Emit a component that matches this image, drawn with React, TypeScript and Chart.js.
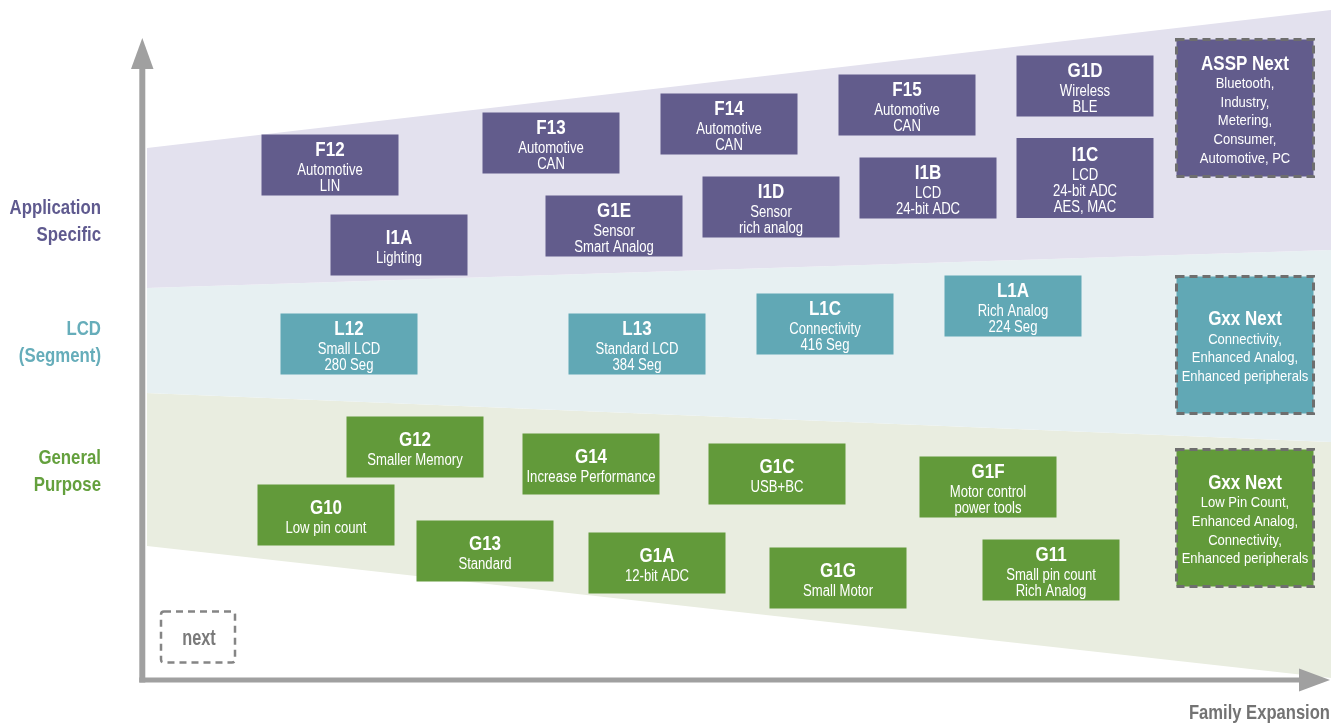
import React, { useEffect, useRef } from "react";
import { Chart, registerables } from "chart.js";

Chart.register(...registerables);

const FONT = '"Liberation Sans", Arial, sans-serif';

// Band boundary lines (x from left to right end, y values)
const bandX = [147, 1331];
const purpleTopY = [148, 10];
const purpleBottomY = [288, 250];
const lcdBottomY = [393, 442];
const greenBottomY = [546, 678];

// Application specific boxes
const purpleNames = ["F12", "I1A", "F13", "G1E", "F14", "I1D", "F15", "I1B", "G1D", "I1C"];
const purpleSubs = [
  ["Automotive", "LIN"],
  ["Lighting"],
  ["Automotive", "CAN"],
  ["Sensor", "Smart Analog"],
  ["Automotive", "CAN"],
  ["Sensor", "rich analog"],
  ["Automotive", "CAN"],
  ["LCD", "24-bit ADC"],
  ["Wireless", "BLE"],
  ["LCD", "24-bit ADC", "AES, MAC"],
];
const purpleX = [330, 399, 551, 614, 729, 771, 907, 928, 1085, 1085];
const purpleY = [165, 245, 143, 226, 124, 207, 105, 188, 86, 178];

// LCD boxes
const tealNames = ["L12", "L13", "L1C", "L1A"];
const tealSubs = [
  ["Small LCD", "280 Seg"],
  ["Standard LCD", "384 Seg"],
  ["Connectivity", "416 Seg"],
  ["Rich Analog", "224 Seg"],
];
const tealX = [349, 637, 825, 1013];
const tealY = [344, 344, 324, 306];

// General purpose boxes
const greenNames = ["G12", "G14", "G1C", "G1F", "G10", "G13", "G1A", "G1G", "G11"];
const greenSubs = [
  ["Smaller Memory"],
  ["Increase Performance"],
  ["USB+BC"],
  ["Motor control", "power tools"],
  ["Low pin count"],
  ["Standard"],
  ["12-bit ADC"],
  ["Small Motor"],
  ["Small pin count", "Rich Analog"],
];
const greenX = [415, 591, 777, 988, 326, 485, 657, 838, 1051];
const greenY = [447, 464, 474, 487, 515, 551, 563, 578, 570];

// "Next" boxes (dashed)
const nextNames = ["ASSP Next", "Gxx Next", "Gxx Next"];
const nextSubs = [
  ["Bluetooth,", "Industry,", "Metering,", "Consumer,", "Automotive, PC"],
  ["Connectivity,", "Enhanced Analog,", "Enhanced peripherals"],
  ["Low Pin Count,", "Enhanced Analog,", "Connectivity,", "Enhanced peripherals"],
];
const nextX = [1245, 1245, 1245];
const nextY = [108, 345, 518];

// Category labels on the left
const categoryLines = [["Application", "Specific"], ["LCD", "(Segment)"], ["General", "Purpose"]];
const categoryY = [220, 341, 470];

const legendNextX = [198];
const legendNextY = [637];

const COLORS = {
  purpleBand: "#e3e1ee",
  lcdBand: "#e7f0f2",
  greenBand: "#e9ede0",
  purpleBox: "#625c8c",
  tealBox: "#61a8b5",
  greenBox: "#629a3a",
  purpleLabel: "#5f5a8f",
  tealLabel: "#66adba",
  greenLabel: "#64a03d",
  axis: "#a0a0a0",
  dash: "#6e6e6e",
};

const pts = (ys: number[]) => bandX.map((x, i) => ({ x, y: ys[i] }));
const ptsXY = (xs: number[], ys: number[]) => xs.map((x, i) => ({ x, y: ys[i] }));

const bandDataset = (ys: number[], color: string | null) => ({
  type: "line" as const,
  data: pts(ys),
  borderWidth: 0,
  borderColor: "rgba(0,0,0,0)",
  pointRadius: 0,
  fill: color ? "+1" : false,
  backgroundColor: color || "rgba(0,0,0,0)",
  tension: 0,
});

const boxDataset = (xs: number[], ys: number[], kind: string, names: string[], subs: string[][]) => ({
  type: "scatter" as const,
  data: ptsXY(xs, ys),
  pointRadius: 0,
  showLine: false,
  kind,
  names,
  subs,
});

function narrowText(ctx: CanvasRenderingContext2D, text: string, x: number, y: number, sx: number) {
  ctx.save();
  ctx.translate(x, y);
  ctx.scale(sx, 1);
  ctx.fillText(text, 0, 0);
  ctx.restore();
}

export default function App() {
  const ref = useRef<HTMLCanvasElement>(null);

  useEffect(() => {
    if (!ref.current) return;

    const drawPlugin = {
      id: "diagram",
      afterDatasetsDraw(chart: any) {
        const ctx: CanvasRenderingContext2D = chart.ctx;
        const xs = chart.scales.x;
        const ys = chart.scales.y;
        const px = (v: number) => xs.getPixelForValue(v);
        const py = (v: number) => ys.getPixelForValue(v);

        // Axes
        ctx.save();
        ctx.fillStyle = COLORS.axis;
        ctx.strokeStyle = COLORS.axis;
        ctx.lineCap = "butt";
        ctx.lineWidth = 6;
        ctx.beginPath();
        ctx.moveTo(px(142.3), py(682.5));
        ctx.lineTo(px(142.3), py(64));
        ctx.stroke();
        ctx.lineWidth = 5;
        ctx.beginPath();
        ctx.moveTo(px(139.3), py(680));
        ctx.lineTo(px(1304), py(680));
        ctx.stroke();
        ctx.beginPath();
        ctx.moveTo(px(142.3), py(38));
        ctx.lineTo(px(131), py(69));
        ctx.lineTo(px(153.5), py(69));
        ctx.closePath();
        ctx.fill();
        ctx.beginPath();
        ctx.moveTo(px(1330), py(680));
        ctx.lineTo(px(1299), py(668.5));
        ctx.lineTo(px(1299), py(691.5));
        ctx.closePath();
        ctx.fill();
        ctx.restore();

        // Boxes
        chart.data.datasets.forEach((ds: any, di: number) => {
          if (!ds.kind) return;
          const meta = chart.getDatasetMeta(di);
          meta.data.forEach((el: any, i: number) => {
            const cx = el.x;
            const cy = el.y;
            const subs: string[] = ds.subs[i];
            const isNext = ds.kind === "next";
            const w = 137;
            let h = subs.length >= 3 ? 80 : 61;
            let fill = COLORS.purpleBox;
            if (ds.kind === "teal") fill = COLORS.tealBox;
            if (ds.kind === "green") fill = COLORS.greenBox;
            if (isNext) {
              h = 137;
              fill = [COLORS.purpleBox, COLORS.tealBox, COLORS.greenBox][i];
            }
            ctx.save();
            ctx.fillStyle = fill;
            ctx.fillRect(cx - w / 2, cy - h / 2, w, h);
            if (isNext) {
              ctx.strokeStyle = COLORS.dash;
              ctx.lineWidth = 3;
              ctx.setLineDash([8, 5]);
              ctx.strokeRect(cx - w / 2, cy - h / 2, w, h);
              ctx.setLineDash([]);
            }
            const titleSize = 20;
            const subSize = isNext ? 15.5 : 16;
            const titleCap = titleSize * 0.716;
            const firstGap = isNext ? 18.3 : 19;
            const lineGap = isNext ? 18.7 : 16;
            const blockH = titleCap + firstGap + (subs.length - 1) * lineGap;
            const top = cy + 1 - blockH / 2;
            const b0 = top + titleCap;
            ctx.fillStyle = "#ffffff";
            ctx.textAlign = "center";
            ctx.textBaseline = "alphabetic";
            ctx.font = `bold ${titleSize}px ${FONT}`;
            narrowText(ctx, ds.names[i], cx, b0, 0.85);
            ctx.font = `${subSize}px ${FONT}`;
            subs.forEach((s, k) => {
              narrowText(ctx, s, cx, b0 + firstGap + k * lineGap, isNext ? 0.84 : 0.82);
            });
            ctx.restore();
          });
        });

        // Legend "next"
        ctx.save();
        const nx = px(legendNextX[0]);
        const ny = py(legendNextY[0]);
        ctx.strokeStyle = "#858585";
        ctx.lineWidth = 2.5;
        ctx.setLineDash([7, 5]);
        ctx.beginPath();
        const bw = 74, bh = 51, r = 3;
        const lx = nx - bw / 2, ly = ny - bh / 2;
        ctx.moveTo(lx + r, ly);
        ctx.lineTo(lx + bw - r, ly);
        ctx.quadraticCurveTo(lx + bw, ly, lx + bw, ly + r);
        ctx.lineTo(lx + bw, ly + bh - r);
        ctx.quadraticCurveTo(lx + bw, ly + bh, lx + bw - r, ly + bh);
        ctx.lineTo(lx + r, ly + bh);
        ctx.quadraticCurveTo(lx, ly + bh, lx, ly + bh - r);
        ctx.lineTo(lx, ly + r);
        ctx.quadraticCurveTo(lx, ly, lx + r, ly);
        ctx.stroke();
        ctx.setLineDash([]);
        ctx.fillStyle = "#7a7a7a";
        ctx.font = `bold 22px ${FONT}`;
        ctx.textAlign = "center";
        ctx.textBaseline = "alphabetic";
        narrowText(ctx, "next", nx + 1, ny + 8, 0.74);
        ctx.restore();

        // Category labels
        ctx.save();
        const catColors = [COLORS.purpleLabel, COLORS.tealLabel, COLORS.greenLabel];
        ctx.textAlign = "right";
        ctx.textBaseline = "alphabetic";
        ctx.font = `bold 21px ${FONT}`;
        categoryLines.forEach((lines, i) => {
          ctx.fillStyle = catColors[i];
          lines.forEach((t, k) => {
            narrowText(ctx, t, px(101), py(categoryY[i]) + (k - 0.5) * 27 + 7.5, 0.8);
          });
        });
        // Axis title
        ctx.fillStyle = "#737373";
        ctx.font = `bold 21px ${FONT}`;
        narrowText(ctx, "Family Expansion", px(1330), py(718.5), 0.79);
        ctx.restore();
      },
    };

    const chart = new Chart(ref.current, {
      type: "scatter",
      data: {
        datasets: [
          bandDataset(purpleTopY, COLORS.purpleBand),
          bandDataset(purpleBottomY, COLORS.lcdBand),
          bandDataset(lcdBottomY, COLORS.greenBand),
          bandDataset(greenBottomY, null),
          boxDataset(purpleX, purpleY, "purple", purpleNames, purpleSubs),
          boxDataset(tealX, tealY, "teal", tealNames, tealSubs),
          boxDataset(greenX, greenY, "green", greenNames, greenSubs),
          boxDataset(nextX, nextY, "next", nextNames, nextSubs),
        ] as any,
      },
      options: {
        animation: false,
        responsive: false,
        maintainAspectRatio: false,
        devicePixelRatio: 1,
        layout: { padding: 0 },
        events: [],
        plugins: {
          legend: { display: false },
          tooltip: { enabled: false },
          title: { display: false },
        },
        scales: {
          x: { type: "linear", min: 0, max: 1336, display: false },
          y: { type: "linear", min: 0, max: 724, reverse: true, display: false },
        },
      },
      plugins: [drawPlugin],
    });
    return () => chart.destroy();
  }, []);

  return (
    <div style={{ position: "fixed", left: 0, top: 0, width: 1336, height: 724, background: "#ffffff" }}>
      <canvas ref={ref} width={1336} height={724} style={{ display: "block", width: 1336, height: 724 }} />
    </div>
  );
}
